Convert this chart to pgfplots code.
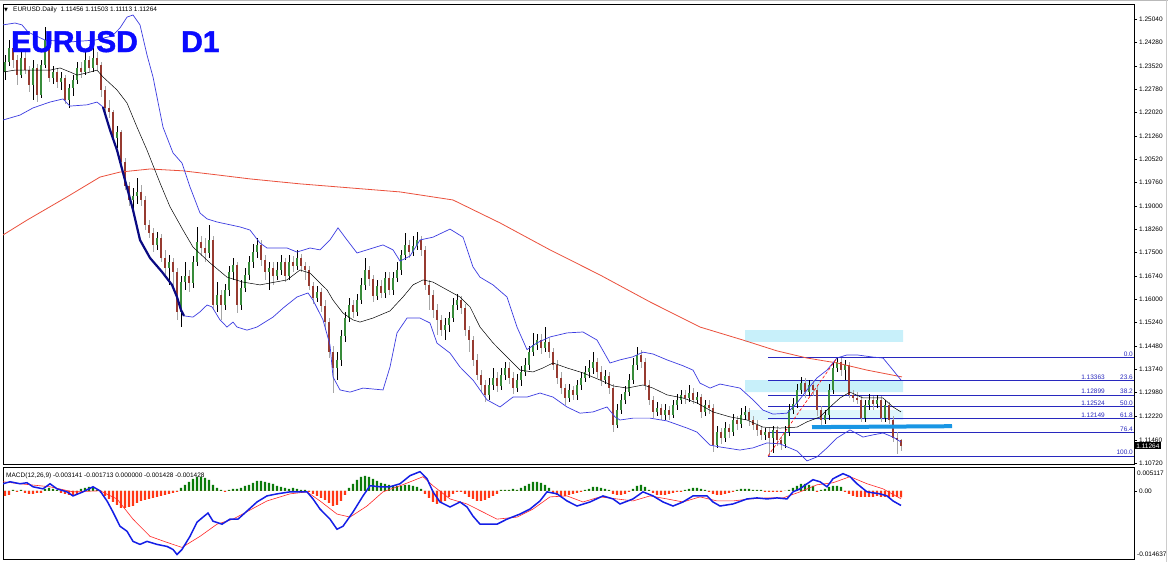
\documentclass[border=0pt]{standalone}
\usepackage{pgfplots}
\usepackage{pgfplotstable}
\pgfplotsset{compat=1.18}
\usepackage{fontspec}
\setmainfont{Liberation Sans}
\newfontfamily\dejavu{DejaVu Sans}
\newfontfamily\titlefont[FakeBold=1.5]{Liberation Sans}
\definecolor{bullc}{RGB}{56,140,58}
\definecolor{bearc}{RGB}{150,58,48}
\definecolor{bbblue}{RGB}{60,60,225}
\definecolor{maRed}{RGB}{235,80,60}
\definecolor{fibc}{RGB}{40,40,190}
\definecolor{cyanbox}{RGB}{200,240,250}
\definecolor{cyanbox2}{RGB}{222,246,252}
\definecolor{suppc}{RGB}{25,150,228}
\definecolor{histg}{RGB}{10,122,10}
\definecolor{histr}{RGB}{255,55,20}
\definecolor{macdb}{RGB}{20,30,230}
\definecolor{titleb}{RGB}{10,10,255}
\definecolor{navyl}{RGB}{10,10,130}

\pgfplotstableread{
o h l c m
1.2333 1.2388 1.2307 1.2365 -0.00108
1.2365 1.2436 1.2352 1.2410 -0.00086
1.2410 1.2420 1.2346 1.2372 0.00022
1.2372 1.2388 1.2291 1.2323 -0.00022
1.2323 1.2398 1.2314 1.2378 0.00022
1.2378 1.2404 1.2327 1.2339 -0.00043
1.2339 1.2352 1.2268 1.2291 -0.00065
1.2291 1.2372 1.2243 1.2346 -0.00065
1.2346 1.2359 1.2236 1.2259 -0.00043
1.2259 1.2372 1.2249 1.2356 -0.00043
1.2356 1.2478 1.2346 1.2436 0.00043
1.2436 1.2452 1.2301 1.2314 0.00065
1.2314 1.2352 1.2294 1.2333 0.00043
1.2333 1.2346 1.2281 1.2301 0.00022
1.2301 1.2333 1.2275 1.2314 -0.00043
1.2314 1.2323 1.2230 1.2243 -0.00065
1.2243 1.2294 1.2217 1.2281 -0.00086
1.2281 1.2323 1.2256 1.2307 -0.00108
1.2307 1.2365 1.2294 1.2346 -0.00065
1.2346 1.2365 1.2314 1.2333 0.00043
1.2333 1.2404 1.2323 1.2372 0.00065
1.2372 1.2385 1.2333 1.2346 0.00086
1.2346 1.2410 1.2333 1.2378 0.00065
1.2378 1.2398 1.2339 1.2356 0.00022
1.2356 1.2365 1.2252 1.2275 -0.00043
1.2275 1.2288 1.2204 1.2217 -0.00108
1.2217 1.2243 1.2185 1.2204 -0.00172
1.2204 1.2210 1.2107 1.2120 -0.00237
1.2120 1.2159 1.2088 1.2139 -0.00301
1.2139 1.2146 1.2030 1.2043 -0.00366
1.2043 1.2055 1.1952 1.1965 -0.00366
1.1965 1.1978 1.1901 1.1920 -0.00344
1.1920 1.1959 1.1875 1.1933 -0.00323
1.1933 1.1991 1.1907 1.1946 -0.00258
1.1946 1.1968 1.1901 1.1920 -0.00215
1.1920 1.1933 1.1823 1.1839 -0.00194
1.1839 1.1855 1.1797 1.1813 -0.00172
1.1813 1.1830 1.1752 1.1775 -0.00151
1.1775 1.1817 1.1759 1.1797 -0.00129
1.1797 1.1810 1.1720 1.1733 -0.00108
1.1733 1.1759 1.1678 1.1701 -0.00086
1.1701 1.1742 1.1646 1.1720 -0.00065
1.1720 1.1733 1.1630 1.1688 -0.00043
1.1688 1.1701 1.1533 1.1559 -0.00022
1.1559 1.1675 1.1510 1.1655 0.00065
1.1655 1.1720 1.1630 1.1675 0.00129
1.1675 1.1694 1.1623 1.1652 0.00194
1.1652 1.1739 1.1636 1.1720 0.00258
1.1720 1.1833 1.1707 1.1784 0.00301
1.1784 1.1804 1.1739 1.1765 0.00301
1.1765 1.1797 1.1720 1.1749 0.00280
1.1749 1.1839 1.1733 1.1791 0.00237
1.1791 1.1804 1.1565 1.1581 0.00129
1.1581 1.1655 1.1559 1.1613 0.00065
1.1613 1.1630 1.1533 1.1581 0.00022
1.1581 1.1649 1.1565 1.1630 -0.00022
1.1630 1.1707 1.1610 1.1688 0.00022
1.1688 1.1733 1.1662 1.1710 0.00043
1.1710 1.1720 1.1555 1.1581 0.00043
1.1581 1.1662 1.1565 1.1636 0.00065
1.1636 1.1701 1.1623 1.1678 0.00108
1.1678 1.1739 1.1662 1.1720 0.00129
1.1720 1.1778 1.1701 1.1752 0.00172
1.1752 1.1797 1.1733 1.1775 0.00215
1.1775 1.1791 1.1707 1.1726 0.00215
1.1726 1.1742 1.1662 1.1688 0.00194
1.1688 1.1720 1.1630 1.1701 0.00172
1.1701 1.1720 1.1646 1.1675 0.00151
1.1675 1.1720 1.1662 1.1694 0.00108
1.1694 1.1742 1.1678 1.1720 0.00086
1.1720 1.1733 1.1655 1.1675 0.00065
1.1675 1.1742 1.1662 1.1720 0.00043
1.1720 1.1739 1.1688 1.1707 0.00065
1.1707 1.1759 1.1694 1.1733 0.00043
1.1733 1.1746 1.1688 1.1707 0.00022
1.1707 1.1720 1.1662 1.1694 0.00022
1.1694 1.1707 1.1630 1.1642 -0.00022
1.1642 1.1655 1.1584 1.1604 -0.00065
1.1604 1.1642 1.1591 1.1623 -0.00108
1.1623 1.1636 1.1559 1.1578 -0.00151
1.1578 1.1597 1.1500 1.1526 -0.00194
1.1526 1.1539 1.1410 1.1429 -0.00258
1.1429 1.1449 1.1297 1.1378 -0.00323
1.1378 1.1429 1.1339 1.1404 -0.00301
1.1404 1.1500 1.1384 1.1481 -0.00215
1.1481 1.1559 1.1462 1.1539 -0.00086
1.1539 1.1604 1.1526 1.1581 0.00065
1.1581 1.1597 1.1539 1.1559 0.00151
1.1559 1.1617 1.1546 1.1597 0.00237
1.1597 1.1668 1.1584 1.1646 0.00301
1.1646 1.1733 1.1630 1.1694 0.00323
1.1694 1.1707 1.1642 1.1665 0.00301
1.1665 1.1678 1.1591 1.1610 0.00258
1.1610 1.1662 1.1597 1.1642 0.00215
1.1642 1.1662 1.1604 1.1620 0.00172
1.1620 1.1688 1.1604 1.1668 0.00151
1.1668 1.1688 1.1613 1.1630 0.00129
1.1630 1.1688 1.1613 1.1668 0.00108
1.1668 1.1720 1.1655 1.1694 0.00108
1.1694 1.1759 1.1678 1.1742 0.00108
1.1742 1.1813 1.1726 1.1775 0.00129
1.1775 1.1791 1.1733 1.1752 0.00129
1.1752 1.1804 1.1739 1.1772 0.00108
1.1772 1.1817 1.1759 1.1791 0.00086
1.1791 1.1804 1.1739 1.1759 0.00043
1.1759 1.1772 1.1630 1.1646 -0.00065
1.1646 1.1662 1.1565 1.1613 -0.00151
1.1613 1.1630 1.1539 1.1565 -0.00237
1.1565 1.1584 1.1484 1.1533 -0.00280
1.1533 1.1549 1.1481 1.1500 -0.00258
1.1500 1.1539 1.1468 1.1517 -0.00215
1.1517 1.1559 1.1494 1.1539 -0.00129
1.1539 1.1604 1.1526 1.1581 -0.00065
1.1581 1.1617 1.1565 1.1597 -0.00022
1.1597 1.1610 1.1552 1.1571 -0.00022
1.1571 1.1584 1.1481 1.1500 -0.00065
1.1500 1.1513 1.1429 1.1468 -0.00129
1.1468 1.1481 1.1384 1.1404 -0.00172
1.1404 1.1423 1.1339 1.1355 -0.00215
1.1355 1.1371 1.1300 1.1323 -0.00215
1.1323 1.1339 1.1268 1.1291 -0.00194
1.1291 1.1346 1.1275 1.1323 -0.00151
1.1323 1.1378 1.1307 1.1346 -0.00108
1.1346 1.1365 1.1300 1.1320 -0.00065
1.1320 1.1378 1.1307 1.1355 0.00022
1.1355 1.1397 1.1339 1.1378 0.00022
1.1378 1.1397 1.1326 1.1346 0.00022
1.1346 1.1365 1.1294 1.1313 0.00043
1.1313 1.1358 1.1300 1.1339 0.00022
1.1339 1.1384 1.1320 1.1365 0.00065
1.1365 1.1410 1.1352 1.1387 0.00108
1.1387 1.1449 1.1371 1.1429 0.00151
1.1429 1.1491 1.1417 1.1452 0.00194
1.1452 1.1488 1.1436 1.1468 0.00194
1.1468 1.1488 1.1423 1.1442 0.00172
1.1442 1.1510 1.1429 1.1462 0.00129
1.1462 1.1475 1.1410 1.1429 0.00065
1.1429 1.1442 1.1371 1.1387 -0.00043
1.1387 1.1404 1.1326 1.1346 -0.00086
1.1346 1.1365 1.1294 1.1313 -0.00108
1.1313 1.1326 1.1258 1.1281 -0.00108
1.1281 1.1326 1.1268 1.1307 -0.00086
1.1307 1.1320 1.1275 1.1291 -0.00065
1.1291 1.1339 1.1275 1.1323 -0.00043
1.1323 1.1365 1.1307 1.1346 -0.00022
1.1346 1.1384 1.1333 1.1365 0.00022
1.1365 1.1404 1.1346 1.1378 0.00043
1.1378 1.1429 1.1358 1.1397 0.00086
1.1397 1.1410 1.1346 1.1365 0.00086
1.1365 1.1384 1.1320 1.1339 0.00065
1.1339 1.1371 1.1326 1.1352 0.00043
1.1352 1.1365 1.1294 1.1313 0.00022
1.1313 1.1326 1.1171 1.1194 -0.00065
1.1194 1.1262 1.1184 1.1242 -0.00086
1.1242 1.1294 1.1229 1.1275 -0.00086
1.1275 1.1320 1.1262 1.1300 -0.00065
1.1300 1.1358 1.1287 1.1339 -0.00022
1.1339 1.1410 1.1326 1.1387 0.00043
1.1387 1.1446 1.1371 1.1420 0.00108
1.1420 1.1436 1.1378 1.1397 0.00129
1.1397 1.1410 1.1307 1.1323 0.00086
1.1323 1.1339 1.1258 1.1275 0.00022
1.1275 1.1287 1.1216 1.1236 -0.00043
1.1236 1.1268 1.1223 1.1249 -0.00086
1.1249 1.1262 1.1210 1.1226 -0.00086
1.1226 1.1262 1.1210 1.1242 -0.00086
1.1242 1.1255 1.1210 1.1226 -0.00065
1.1226 1.1275 1.1216 1.1258 -0.00043
1.1258 1.1294 1.1242 1.1275 -0.00022
1.1275 1.1307 1.1262 1.1291 -0.00022
1.1291 1.1307 1.1262 1.1281 0.00022
1.1281 1.1323 1.1268 1.1297 0.00043
1.1297 1.1313 1.1262 1.1275 0.00065
1.1275 1.1300 1.1262 1.1284 0.00065
1.1284 1.1294 1.1216 1.1236 0.00043
1.1236 1.1275 1.1223 1.1258 0.00022
1.1258 1.1275 1.1229 1.1249 -0.00022
1.1249 1.1262 1.1107 1.1129 -0.00065
1.1129 1.1191 1.1120 1.1171 -0.00086
1.1171 1.1184 1.1133 1.1152 -0.00086
1.1152 1.1204 1.1139 1.1184 -0.00065
1.1184 1.1197 1.1152 1.1171 -0.00043
1.1171 1.1229 1.1158 1.1210 -0.00022
1.1210 1.1223 1.1178 1.1197 0.00022
1.1197 1.1249 1.1184 1.1226 0.00043
1.1226 1.1255 1.1210 1.1236 0.00043
1.1236 1.1249 1.1191 1.1210 0.00043
1.1210 1.1223 1.1178 1.1194 0.00022
1.1194 1.1210 1.1158 1.1178 0.00022
1.1178 1.1191 1.1145 1.1162 0.00022
1.1162 1.1184 1.1145 1.1171 -0.00022
1.1171 1.1184 1.1094 1.1152 -0.00022
1.1152 1.1191 1.1104 1.1178 -0.00022
1.1178 1.1191 1.1126 1.1145 -0.00022
1.1145 1.1158 1.1113 1.1133 -0.00022
1.1133 1.1191 1.1120 1.1171 0
1.1171 1.1262 1.1158 1.1242 0.00022
1.1242 1.1281 1.1229 1.1262 0.00065
1.1262 1.1326 1.1249 1.1307 0.00108
1.1307 1.1349 1.1294 1.1329 0.00151
1.1329 1.1346 1.1281 1.1300 0.00151
1.1300 1.1339 1.1287 1.1323 0.00129
1.1323 1.1339 1.1287 1.1307 0.00108
1.1307 1.1320 1.1223 1.1242 -0.00022
1.1242 1.1255 1.1191 1.1210 0.00022
1.1210 1.1242 1.1197 1.1226 0.00043
1.1226 1.1326 1.1210 1.1307 0.00086
1.1307 1.1397 1.1294 1.1378 0.00108
1.1378 1.1411 1.1365 1.1397 0.00108
1.1397 1.1410 1.1352 1.1371 0.00086
1.1371 1.1404 1.1339 1.1387 -0.00022
1.1387 1.1397 1.1281 1.1291 -0.00065
1.1291 1.1307 1.1268 1.1281 -0.00108
1.1281 1.1300 1.1262 1.1275 -0.00129
1.1275 1.1287 1.1204 1.1216 -0.00129
1.1216 1.1275 1.1204 1.1258 -0.00129
1.1258 1.1294 1.1242 1.1275 -0.00129
1.1275 1.1287 1.1242 1.1262 -0.00129
1.1262 1.1291 1.1249 1.1275 -0.00108
1.1275 1.1287 1.1204 1.1216 -0.00129
1.1216 1.1275 1.1204 1.1258 -0.00129
1.1258 1.1268 1.1197 1.1210 -0.00129
1.1210 1.1223 1.1139 1.1152 -0.00129
1.1152 1.1171 1.1100 1.1146 -0.00129
1.1146 1.1150 1.1111 1.1126 -0.00143
}\candles

\pgfplotsset{
  candlebar/.style n args={2}{draw=none, mark=none, forget plot,
    restrict y to domain=1:2,
    error bars/.cd, y dir=both, y explicit, error mark=none,
    error bar style={line width=#1, draw=#2, solid}},
}

\begin{document}
\begin{tikzpicture}[x=1pt,y=1pt]
\path[use as bounding box] (0,0) rectangle (1168,-562);
\fill[white] (0,0) rectangle (1168,-562);
\draw[gray!55, line width=1pt] (0,-0.5) -- (1168,-0.5);
\draw[gray!40, line width=1pt] (1166.5,0) -- (1166.5,-562);

\begin{axis}[
  at={(3pt,-4pt)}, anchor=north west,
  width=1131pt, height=460pt, scale only axis,
  xmin=3, xmax=1134, ymin=1.10680, ymax=1.25524,
  axis line style={black, line width=0.7pt},
  clip mode=individual,
  xtick=\empty,
  scaled y ticks=false,
  ytick pos=right, yticklabel pos=right,
  tick align=outside, major tick length=3pt,
  every tick/.style={black, line width=0.5pt},
  ytick={1.2504,1.2428,1.2352,1.2278,1.2202,1.2126,1.2052,1.1976,1.19,1.1826,1.175,1.1674,1.16,1.1524,1.1448,1.1374,1.1298,1.1222,1.1146,1.1072},
  yticklabels={1.25040,1.24280,1.23520,1.22780,1.22020,1.21260,1.20520,1.19760,1.19000,1.18260,1.17500,1.16740,1.16000,1.15240,1.14480,1.13740,1.12980,1.12220,1.11460,1.10720},
  yticklabel style={font=\fontsize{6.5}{7}\selectfont, anchor=west, inner sep=1pt, xshift=1pt},
]
% highlighted zones
\addplot[fill=cyanbox, draw=none] coordinates {(745,1.1500) (903,1.1500) (903,1.1462) (745,1.1462) (745,1.1500)};
\addplot[fill=cyanbox, draw=none] coordinates {(745,1.1339) (903,1.1339) (903,1.1300) (745,1.1300) (745,1.1339)};
\addplot[fill=cyanbox2, draw=none] coordinates {(745,1.1242) (903,1.1242) (903,1.1210) (745,1.1210) (745,1.1242)};
% Fibonacci levels
\addplot[fibc, line width=0.8pt] coordinates {(768,1.14113) (1134,1.14113)};
\addplot[fibc, line width=0.8pt] coordinates {(768,1.13363) (1134,1.13363)};
\addplot[fibc, line width=0.8pt] coordinates {(768,1.12899) (1134,1.12899)};
\addplot[fibc, line width=0.8pt] coordinates {(768,1.12524) (1134,1.12524)};
\addplot[fibc, line width=0.8pt] coordinates {(768,1.12149) (1134,1.12149)};
\addplot[fibc, line width=0.8pt] coordinates {(768,1.11685) (1134,1.11685)};
\addplot[fibc, line width=0.8pt] coordinates {(768,1.10935) (1134,1.10935)};
% candles: wicks
\addplot[candlebar={0.8pt}{black}]
  table[x expr=5+4*\coordindex,
        y expr={\thisrow{c}>\thisrow{o} ? (\thisrow{h}+\thisrow{l})/2 : -1},
        y error expr={(\thisrow{h}-\thisrow{l})/2}] {\candles};
\addplot[candlebar={0.8pt}{gray!70}]
  table[x expr=5+4*\coordindex,
        y expr={\thisrow{c}>\thisrow{o} ? -1 : (\thisrow{h}+\thisrow{l})/2},
        y error expr={(\thisrow{h}-\thisrow{l})/2}] {\candles};
% candles: bodies
\addplot[candlebar={2.6pt}{bullc}]
  table[x expr=5+4*\coordindex,
        y expr={\thisrow{c}>\thisrow{o} ? (\thisrow{o}+\thisrow{c})/2 : -1},
        y error expr={abs(\thisrow{c}-\thisrow{o})/2}] {\candles};
\addplot[candlebar={2.6pt}{bearc}]
  table[x expr=5+4*\coordindex,
        y expr={\thisrow{c}>\thisrow{o} ? -1 : (\thisrow{o}+\thisrow{c})/2},
        y error expr={abs(\thisrow{c}-\thisrow{o})/2}] {\candles};
% 200 MA
\addplot[maRed, line width=0.8pt] coordinates {(3,1.1807) (27,1.1855) (67,1.1930) (100,1.1994) (120,1.2010) (150,1.2020) (183,1.2014) (217,1.2001) (250,1.1988) (300,1.1972) (350,1.1959) (400,1.1946) (453,1.1920) (500,1.1846) (550,1.1759) (600,1.1678) (650,1.1591) (700,1.1510) (743,1.1468) (777,1.1433) (807,1.1410) (837,1.1394) (867,1.1371) (902,1.1349)};
% Bollinger upper
\addplot[bbblue, line width=0.7pt] coordinates {(3,1.2485) (15,1.2491) (22,1.2485) (28,1.2462) (45,1.2436) (70,1.2430) (95,1.2436) (112,1.2449) (120,1.2475) (127,1.2510) (133,1.2517) (140,1.2485) (147,1.2388) (153,1.2317) (163,1.2155) (173,1.2072) (182,1.2039) (190,1.1962) (200,1.1878) (207,1.1859) (217,1.1849) (240,1.1833) (250,1.1823) (260,1.1781) (267,1.1765) (287,1.1765) (297,1.1752) (310,1.1765) (320,1.1759) (330,1.1791) (338,1.1830) (347,1.1791) (357,1.1749) (367,1.1759) (383,1.1775) (393,1.1759) (400,1.1723) (410,1.1739) (420,1.1791) (433,1.1800) (450,1.1826) (463,1.1800) (473,1.1704) (480,1.1671) (493,1.1646) (507,1.1607) (517,1.1510) (527,1.1437) (537,1.1459) (550,1.1478) (567,1.1491) (583,1.1494) (597,1.1468) (610,1.1394) (620,1.1404) (633,1.1414) (643,1.1429) (653,1.1423) (667,1.1404) (683,1.1385) (693,1.1371) (700,1.1329) (710,1.1313) (720,1.1326) (740,1.1313) (753,1.1275) (763,1.1242) (773,1.1229) (787,1.1232) (797,1.1265) (807,1.1307) (817,1.1346) (827,1.1371) (837,1.1410) (847,1.1420) (857,1.1420) (873,1.1413) (883,1.1410) (893,1.1371) (901,1.1339)};
% Bollinger lower
\addplot[bbblue, line width=0.7pt] coordinates {(3,1.2178) (20,1.2194) (33,1.2217) (50,1.2236) (63,1.2246) (70,1.2223) (87,1.2227) (97,1.2236) (103,1.2220) (110,1.2146) (117,1.2081) (125,1.1984) (133,1.1888) (140,1.1791) (150,1.1733) (162,1.1688) (172,1.1646) (177,1.1607) (181,1.1565) (184,1.1546) (193,1.1542) (200,1.1559) (207,1.1581) (212,1.1575) (220,1.1533) (227,1.1510) (233,1.1526) (237,1.1510) (247,1.1500) (257,1.1510) (273,1.1542) (283,1.1571) (297,1.1607) (308,1.1620) (313,1.1597) (323,1.1533) (330,1.1452) (333,1.1349) (340,1.1307) (350,1.1300) (363,1.1313) (383,1.1307) (390,1.1381) (397,1.1491) (407,1.1539) (420,1.1539) (430,1.1523) (437,1.1458) (450,1.1426) (460,1.1381) (473,1.1339) (487,1.1275) (500,1.1252) (513,1.1284) (527,1.1284) (540,1.1297) (553,1.1284) (567,1.1252) (580,1.1232) (593,1.1236) (607,1.1252) (615,1.1220) (620,1.1210) (633,1.1216) (650,1.1216) (667,1.1207) (687,1.1184) (697,1.1171) (710,1.1129) (720,1.1123) (740,1.1113) (753,1.1120) (767,1.1136) (780,1.1133) (797,1.1110) (807,1.1078) (817,1.1091) (827,1.1120) (837,1.1152) (850,1.1178) (863,1.1155) (873,1.1162) (883,1.1168) (893,1.1155) (901,1.1139)};
% Bollinger middle
\addplot[black, line width=0.5pt] coordinates {(3,1.2333) (15,1.2339) (50,1.2339) (60,1.2346) (70,1.2333) (77,1.2323) (87,1.2330) (97,1.2339) (103,1.2317) (117,1.2275) (127,1.2233) (137,1.2155) (147,1.2081) (160,1.1975) (170,1.1898) (183,1.1823) (193,1.1768) (210,1.1717) (227,1.1671) (243,1.1655) (260,1.1646) (270,1.1652) (287,1.1662) (300,1.1694) (310,1.1684) (320,1.1652) (327,1.1630) (333,1.1597) (343,1.1555) (353,1.1533) (360,1.1526) (373,1.1539) (390,1.1562) (403,1.1607) (413,1.1646) (423,1.1662) (433,1.1655) (447,1.1630) (460,1.1607) (470,1.1575) (480,1.1510) (493,1.1459) (507,1.1413) (520,1.1371) (533,1.1365) (543,1.1378) (553,1.1394) (567,1.1378) (583,1.1362) (600,1.1339) (613,1.1320) (627,1.1313) (643,1.1323) (653,1.1313) (667,1.1291) (683,1.1281) (697,1.1265) (713,1.1236) (730,1.1220) (747,1.1210) (763,1.1187) (780,1.1184) (797,1.1187) (807,1.1204) (820,1.1220) (830,1.1252) (840,1.1281) (850,1.1300) (863,1.1281) (873,1.1281) (883,1.1281) (893,1.1252) (901,1.1236)};
% thick trend along the lower band
\addplot[navyl, line width=2.2pt] coordinates {(103,1.2220) (110,1.2146) (117,1.2081) (125,1.1984) (133,1.1888) (140,1.1791) (150,1.1733) (162,1.1688) (172,1.1646) (177,1.1607) (181,1.1565) (184,1.1546)};
% support line and fib anchor
\addplot[suppc, line width=4pt] coordinates {(812,1.1187) (952,1.1190)};
\addplot[red, densely dashed, line width=0.6pt] coordinates {(768,1.1094) (837,1.1410)};
% fib labels
\begin{scope}[every node/.style={font=\fontsize{6.5}{7}\selectfont, text=fibc, inner sep=1pt}]
\node[anchor=south east] at (axis cs:1134,1.14113) {0.0};
\node[anchor=south east] at (axis cs:1134,1.13363) {23.6};
\node[anchor=south east] at (axis cs:1134,1.12899) {38.2};
\node[anchor=south east] at (axis cs:1134,1.12524) {50.0};
\node[anchor=south east] at (axis cs:1134,1.12149) {61.8};
\node[anchor=south east] at (axis cs:1134,1.11685) {76.4};
\node[anchor=south east] at (axis cs:1134,1.10935) {100.0};
\node[anchor=south east] at (axis cs:1106,1.13363) {1.13363};
\node[anchor=south east] at (axis cs:1106,1.12899) {1.12899};
\node[anchor=south east] at (axis cs:1106,1.12524) {1.12524};
\node[anchor=south east] at (axis cs:1106,1.12149) {1.12149};
\end{scope}
\node[anchor=west, fill=black, text=white, font=\fontsize{6.5}{7}\selectfont, inner sep=1.2pt] at (axis cs:1135,1.11264) {1.11264};
\end{axis}

\begin{axis}[
  at={(3pt,-467pt)}, anchor=north west,
  width=1131pt, height=92pt, scale only axis,
  xmin=3, xmax=1134, ymin=-0.014637, ymax=0.005117,
  axis line style={black, line width=0.7pt},
  clip mode=individual,
  xtick=\empty,
  scaled y ticks=false,
  ytick pos=right, yticklabel pos=right,
  tick align=outside, major tick length=3pt,
  every tick/.style={black, line width=0.5pt},
  ytick={0}, yticklabels={0.00},
  yticklabel style={font=\fontsize{6.5}{7}\selectfont, anchor=west, inner sep=1pt, xshift=1pt},
]
\addplot[ybar, bar width=2.4pt, bar shift=0pt, fill=histg, draw=none]
  table[x expr=5+4*\coordindex, y expr={max(\thisrow{m},0)}] {\candles};
\addplot[ybar, bar width=2.4pt, bar shift=0pt, fill=histr, draw=none]
  table[x expr=5+4*\coordindex, y expr={min(\thisrow{m},0)}] {\candles};
% signal
\addplot[red!85!white, line width=0.6pt] coordinates {(3,0.00195) (20,0.00152) (50,0.00087) (73,-0.00022) (100,0) (117,-0.00174) (133,-0.00608) (150,-0.00977) (167,-0.01107) (182,-0.01215) (200,-0.00977) (217,-0.00716) (233,-0.00608) (267,-0.00217) (290,-0.00065) (307,-0.00022) (320,-0.00217) (337,-0.00499) (350,-0.00564) (367,-0.00326) (383,-0.00022) (400,0.00109) (413,0.00217) (423,0.00304) (433,0.00109) (450,-0.00174) (467,-0.00282) (483,-0.00456) (497,-0.00608) (517,-0.00564) (533,-0.00391) (550,-0.00130) (567,-0.00109) (583,-0.00239) (600,-0.00130) (617,-0.00174) (633,-0.00217) (650,-0.00109) (667,-0.00174) (683,-0.00239) (700,-0.00130) (717,-0.00217) (733,-0.00217) (750,-0.00174) (767,-0.00152) (783,-0.00152) (800,-0.00022) (817,0.00130) (833,0.00174) (850,0.00304) (867,0.00152) (883,0.00043) (901,-0.001713)};
% MACD
\addplot[macdb, line width=1.5pt] coordinates {(3,0.00152) (10,0.00195) (20,0.00152) (27,0.00174) (33,0.00087) (43,0.00043) (50,0.00152) (57,0.00043) (67,-0.00022) (73,-0.00109) (83,-0.00022) (93,0.00087) (100,0) (107,-0.00217) (113,-0.00456) (120,-0.00760) (127,-0.00868) (133,-0.01085) (140,-0.01150) (147,-0.01085) (157,-0.01150) (167,-0.01194) (173,-0.01259) (177,-0.01367) (182,-0.01259) (190,-0.00977) (197,-0.00673) (203,-0.00564) (208,-0.00477) (213,-0.00651) (222,-0.00716) (230,-0.00608) (238,-0.00608) (247,-0.00434) (257,-0.00239) (267,-0.00109) (277,-0.00065) (290,-0.00022) (307,-0.00022) (313,-0.00174) (320,-0.00391) (330,-0.00608) (337,-0.00825) (343,-0.00760) (353,-0.00456) (363,-0.00109) (370,0.00109) (380,0.00087) (390,0.00087) (400,0.00152) (410,0.00326) (420,0.00412) (427,0.00260) (433,-0.00022) (440,-0.00239) (450,-0.00347) (460,-0.00239) (467,-0.00347) (473,-0.00543) (480,-0.00716) (497,-0.00716) (507,-0.00608) (520,-0.00499) (530,-0.00391) (540,-0.00217) (547,-0.00022) (557,-0.00065) (567,-0.00217) (577,-0.00326) (590,-0.00239) (603,-0.00109) (613,-0.00174) (620,-0.00282) (633,-0.00174) (643,-0.00022) (653,-0.00109) (663,-0.00239) (673,-0.00326) (683,-0.00239) (693,-0.00109) (707,-0.00109) (713,-0.00239) (720,-0.00326) (733,-0.00282) (747,-0.00174) (757,-0.00152) (767,-0.00174) (777,-0.00152) (787,-0.00174) (793,-0.00022) (800,0.00043) (807,0.00152) (813,0.00239) (820,0.00195) (827,0.00087) (833,0.00260) (843,0.00369) (850,0.00304) (857,0.00152) (867,-0.00022) (880,-0.00065) (887,-0.00109) (893,-0.00217) (901,-0.003141)};
\end{axis}

% texts
\node[anchor=base west, inner sep=0, text=titleb, font=\titlefont\bfseries\fontsize{30}{30}\selectfont] at (11,-52) {EURUSD};
\node[anchor=base west, inner sep=0, text=titleb, font=\titlefont\bfseries\fontsize{30}{30}\selectfont] at (181,-52) {D1};
\node[anchor=base west, inner sep=0, font=\dejavu\fontsize{5}{5}\selectfont] at (4,-12) {▼};
\node[anchor=base west, inner sep=0, font=\fontsize{6.5}{7}\selectfont] at (13,-12) {EURUSD.Daily\ \ 1.11456 1.11503 1.11113 1.11264};
\node[anchor=base west, inner sep=0, font=\fontsize{6.5}{7}\selectfont] at (6,-477) {MACD(12,26,9) -0.003141 -0.001713 0.000000 -0.001428 -0.001428};
\node[anchor=west, inner sep=1pt, font=\fontsize{6.5}{7}\selectfont] at (1136,-473) {0.005117};
\node[anchor=west, inner sep=1pt, font=\fontsize{6.5}{7}\selectfont] at (1136,-554) {-0.014637};
\end{tikzpicture}
\end{document}
